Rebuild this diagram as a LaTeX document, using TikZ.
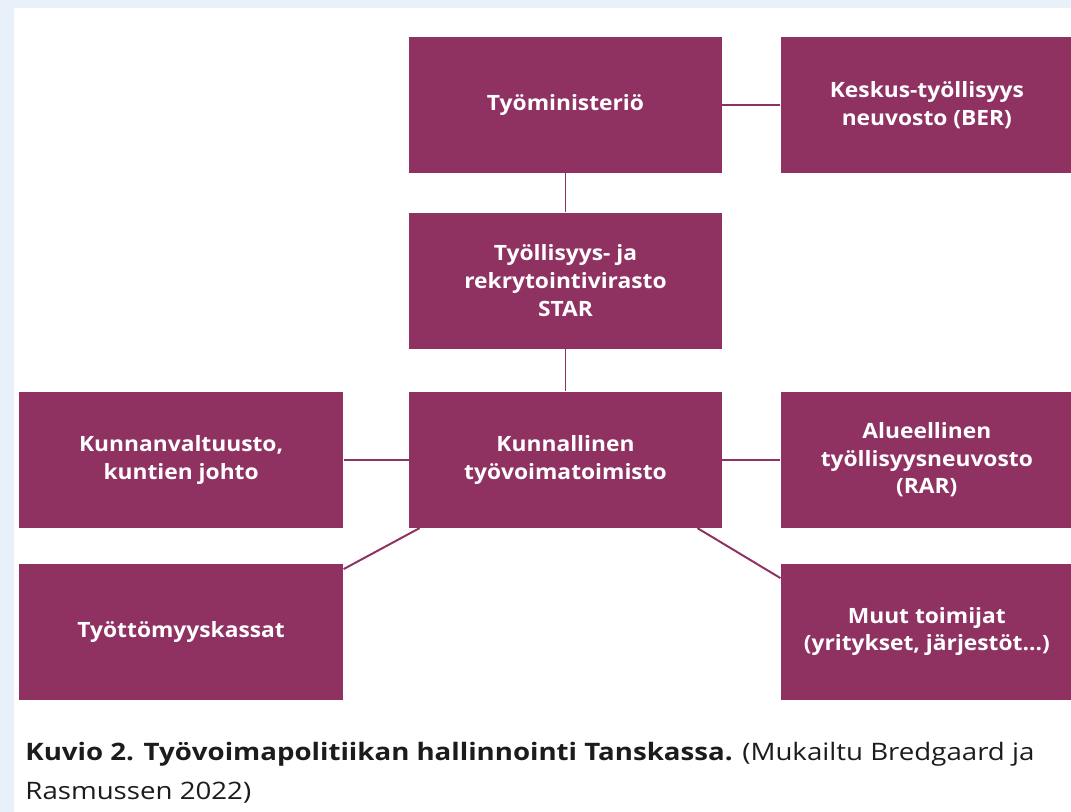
\documentclass[tikz,border=0pt]{standalone}
\usepackage{fontspec}
\setmainfont{Open Sans}
\newfontfamily\boxfont[FakeStretch=1.08]{Open Sans}
\newfontfamily\capfont[FakeStretch=1.15]{Open Sans}
\usetikzlibrary{positioning,calc}

\definecolor{plum}{HTML}{8F3262}
\definecolor{paleblue}{HTML}{E8F0FA}
\definecolor{captext}{HTML}{1C1C1C}

\begin{document}
\begin{tikzpicture}[semithick, node distance=1cm]
\tikzset{
  box/.style={rectangle, fill=plum, text=white, align=center, inner sep=0pt,
    minimum width=7.825cm, minimum height=3.4cm,
    font=\boxfont\bfseries\fontsize{15}{19.8}\selectfont},
  sidebox/.style={box, minimum width=7.3cm},
  leftbox/.style={box, minimum width=8.1cm},
  link/.style={draw=plum, line width=1.4pt},
  caption/.style={anchor=base west, text=captext, inner sep=0pt,
    font=\capfont\fontsize{17.1}{20}\selectfont}
}
\useasboundingbox (0,0) rectangle (26.775,-20.3);
\fill[paleblue] (0,0) rectangle (26.775,-20.3);
\fill[white] (0.35,-0.2) rectangle (26.775,-20.3);

\node[box]      (min)   at (14.1375,-2.625)         {Työministeriö};
\node[sidebox]  (ber)   [right=1.45cm of min]      {Keskus-työllisyys\\neuvosto (BER)};
\node[box]      (star)  [below=0.975cm of min]     {Työllisyys- ja\\rekrytointivirasto\\STAR};
\node[box]      (kto)   [below=1.05cm of star]     {Kunnallinen\\työvoimatoimisto};
\node[leftbox]  (kunta) [left=1.625cm of kto]      {Kunnanvaltuusto,\\kuntien johto};
\node[sidebox]  (rar)   [right=1.45cm of kto]      {Alueellinen\\työllisyysneuvosto\\(RAR)};
\node[leftbox]  (kassa) [below=0.875cm of kunta]   {Työttömyyskassat};
\node[sidebox]  (muut)  [below=0.875cm of rar]     {Muut toimijat\\(yritykset, järjestöt...)};

\path[link]
(min)   edge (ber)
        edge (star)
(star)  edge (kto)
(kto)   edge (kunta)
        edge (rar);
% diagonal links to the lower row
\draw[link] ($(kto.south west)+(0.275,0)$) -- ($(kassa.north east)+(0,-0.15)$);
\draw[link] ($(kto.south east)+(-0.625,0)$) -- ($(muut.north west)+(0,-0.375)$);

\node[caption] (cap1) at (0.625,-19.0)
  {\textbf{Kuvio 2. Työvoimapolitiikan hallinnointi Tanskassa.} (Mukailtu Bredgaard ja};
\node[caption] (cap2) at (0.625,-19.975) {Rasmussen 2022)};
\end{tikzpicture}
\end{document}
